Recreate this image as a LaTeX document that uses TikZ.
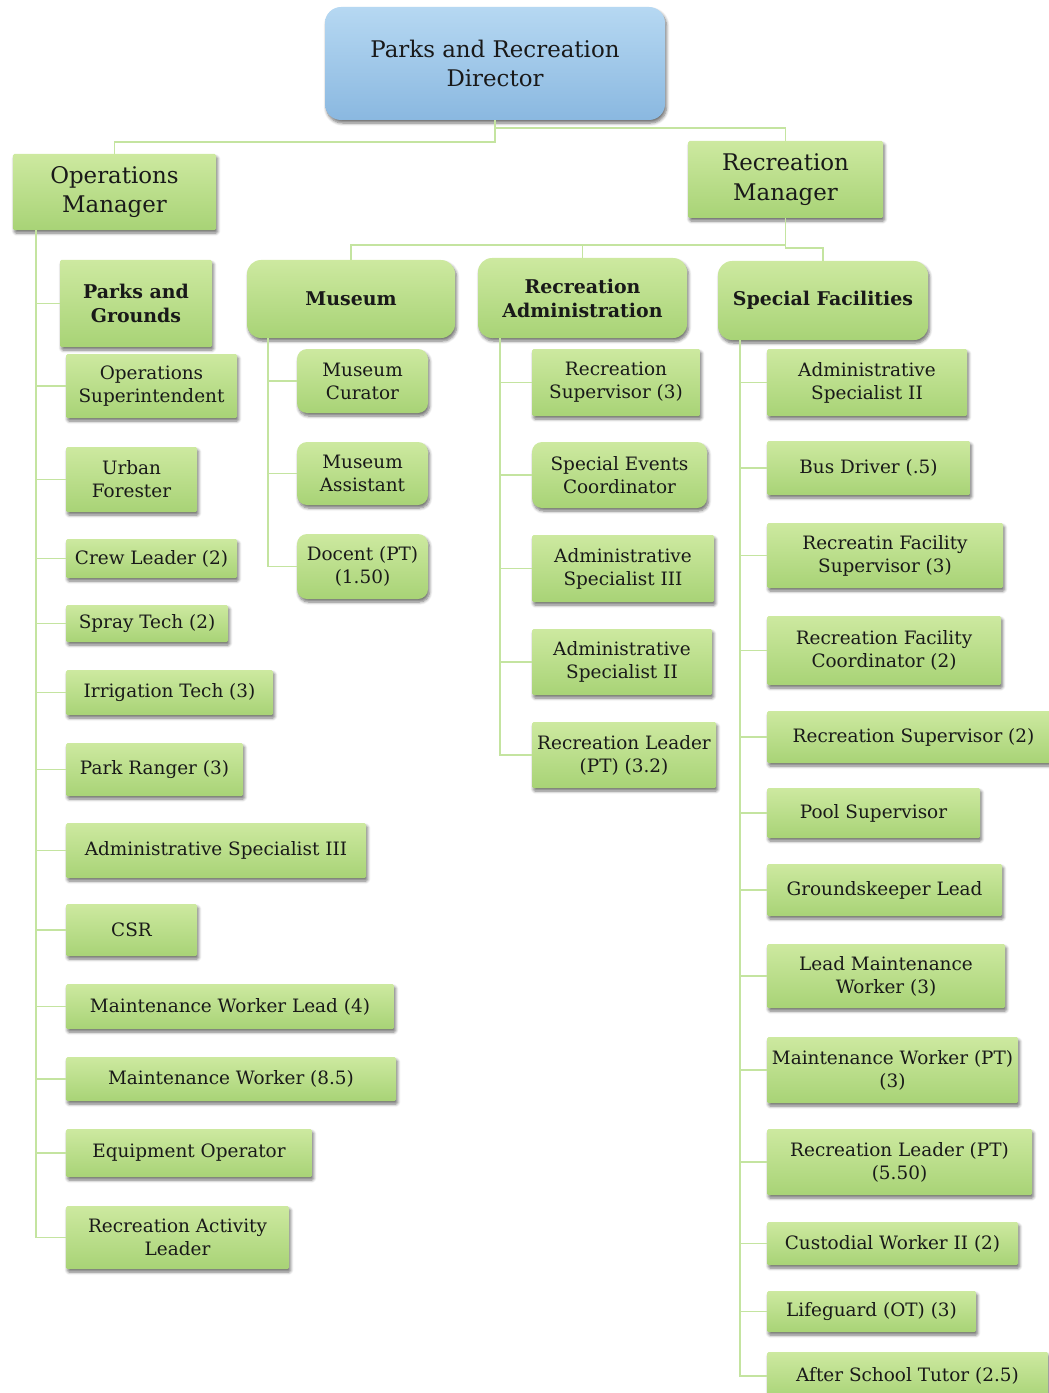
\documentclass[tikz,border=0pt]{standalone}
\usepackage{fontspec}
\setmainfont{DejaVu Serif}
\usetikzlibrary{shadows.blur}

\definecolor{gtop}{RGB}{205,233,160}
\definecolor{gbot}{RGB}{168,211,118}
\definecolor{btop}{RGB}{182,216,242}
\definecolor{bbot}{RGB}{138,184,224}
\definecolor{lineg}{RGB}{196,228,160}
\definecolor{txt}{RGB}{25,25,25}

\newcommand\bodyfont{\fontsize{18.5}{23}\selectfont}
\newcommand\headfont{\fontsize{19}{24}\selectfont\bfseries}
\newcommand\topfont{\fontsize{23}{30}\selectfont}

% box from its corner coordinates: style, name, x1, y1, x2, y2, text
\newcommand\obox[7]{\node[#1, minimum width={#5bp-#3bp}, minimum height={#6bp-#4bp}]
  (#2) at ({(#3+#5)/2},{(#4+#6)/2}) {#7};}

\tikzset{
  conn/.style={draw=lineg, line width=1.8bp},
  gbox/.style={shade, top color=gtop, bottom color=gbot, rounded corners=1.5bp,
    inner sep=0pt, align=center, font=\bodyfont, text=txt,
    blur shadow={shadow xshift=1.5bp, shadow yshift=-3bp, shadow blur radius=3bp,
      shadow blur steps=6, shadow opacity=55}},
  rbox/.style={gbox, rounded corners=10bp},
  hbox/.style={gbox, rounded corners=14bp, font=\headfont},
  sbox/.style={gbox, font=\headfont},
  mbox/.style={gbox, font=\topfont},
  dirbox/.style={gbox, top color=btop, bottom color=bbot, rounded corners=16bp, font=\topfont}
}

\begin{document}
\begin{tikzpicture}[x=1bp, y=-1bp]
\path[use as bounding box] (0,0) rectangle (1048,1393);

% top levels
\obox{dirbox}{dir}{325}{7}{665}{120}{Parks and Recreation\\Director}
\obox{mbox}{opsmgr}{13}{154}{216}{230}{Operations\\Manager}
\obox{mbox}{recmgr}{688}{141}{883}{218}{Recreation\\Manager}

\draw[conn] (dir.south) -- ++(0,22) -| (opsmgr.north);
\draw[conn] (dir.south) -- ++(0,8) -| (recmgr.north);

% divisions
\obox{hbox}{museum}{247}{260}{455}{338}{Museum}
\obox{hbox}{recadm}{478}{258}{687}{338}{Recreation\\Administration}
\obox{hbox}{specfac}{718}{261}{928}{340}{Special Facilities}

\draw[conn] (recmgr.south) -- ++(0,27) -| (museum.north);
\draw[conn] (recmgr.south) -- ++(0,27) -| (recadm.north);
\draw[conn] (recmgr.south) -- ++(0,30) -| (specfac.north);

% operations staff
\coordinate (opsSpine) at (36,230);
\obox{sbox}{pg}{60}{260}{212}{347}{Parks and\\Grounds}
\obox{gbox}{o1}{66}{354}{237}{418}{Operations\\Superintendent}
\obox{gbox}{o2}{66}{447}{197}{512}{Urban\\Forester}
\obox{gbox}{o3}{66}{539}{237}{578}{Crew Leader (2)}
\obox{gbox}{o4}{66}{605}{228}{642}{Spray Tech (2)}
\obox{gbox}{o5}{66}{670}{273}{715}{Irrigation Tech (3)}
\obox{gbox}{o6}{66}{743}{243}{796}{Park Ranger (3)}
\obox{gbox}{o7}{66}{823}{366}{878}{Administrative Specialist III}
\obox{gbox}{o8}{66}{904}{197}{956}{CSR}
\obox{gbox}{o9}{66}{984}{394}{1029}{Maintenance Worker Lead (4)}
\obox{gbox}{o10}{66}{1057}{396}{1101}{Maintenance Worker (8.5)}
\obox{gbox}{o11}{66}{1129}{312}{1177}{Equipment Operator}
\obox{gbox}{o12}{66}{1206}{289}{1269}{Recreation Activity\\Leader}
\foreach \n in {pg,o1,o2,o3,o4,o5,o6,o7,o8,o9,o10,o11,o12}
  \draw[conn] (opsSpine) |- (\n.west);

% museum staff
\coordinate (musSpine) at (268,338);
\obox{rbox}{m1}{297}{349}{428}{413}{Museum\\Curator}
\obox{rbox}{m2}{297}{442}{428}{505}{Museum\\Assistant}
\obox{rbox}{m3}{297}{534}{428}{599}{Docent (PT)\\(1.50)}
\foreach \n in {m1,m2,m3}
  \draw[conn] (musSpine) |- (\n.west);

% recreation administration staff
\coordinate (raSpine) at (500,338);
\obox{gbox}{a1}{532}{349}{700}{416}{Recreation\\Supervisor (3)}
\obox{rbox}{a2}{532}{442}{707}{508}{Special Events\\Coordinator}
\obox{gbox}{a3}{532}{535}{714}{602}{Administrative\\Specialist III}
\obox{gbox}{a4}{532}{629}{712}{695}{Administrative\\Specialist II}
\obox{gbox}{a5}{532}{722}{716}{788}{Recreation Leader\\(PT) (3.2)}
\foreach \n in {a1,a2,a3,a4,a5}
  \draw[conn] (raSpine) |- (\n.west);

% special facilities staff
\coordinate (sfSpine) at (740,340);
\obox{gbox}{s1}{767}{349}{967}{416}{Administrative\\Specialist II}
\obox{gbox}{s2}{767}{441}{970}{495}{Bus Driver (.5)}
\obox{gbox}{s3}{767}{523}{1003}{588}{Recreatin Facility\\Supervisor (3)}
\obox{gbox}{s4}{767}{616}{1001}{685}{Recreation Facility\\Coordinator (2)}
\obox{gbox}{s5}{767}{711}{1060}{763}{Recreation Supervisor (2)}
\obox{gbox}{s6}{767}{788}{980}{838}{Pool Supervisor}
\obox{gbox}{s7}{767}{864}{1002}{916}{Groundskeeper Lead}
\obox{gbox}{s8}{767}{944}{1005}{1008}{Lead Maintenance\\Worker (3)}
\obox{gbox}{s9}{767}{1037}{1018}{1103}{Maintenance Worker (PT)\\(3)}
\obox{gbox}{s10}{767}{1129}{1032}{1195}{Recreation Leader (PT)\\(5.50)}
\obox{gbox}{s11}{767}{1222}{1018}{1265}{Custodial Worker II (2)}
\obox{gbox}{s12}{767}{1291}{976}{1332}{Lifeguard (OT) (3)}
\obox{gbox}{s13}{767}{1352}{1048}{1400}{After School Tutor (2.5)}
\foreach \n in {s1,s2,s3,s4,s5,s6,s7,s8,s9,s10,s11,s12,s13}
  \draw[conn] (sfSpine) |- (\n.west);
\end{tikzpicture}
\end{document}
